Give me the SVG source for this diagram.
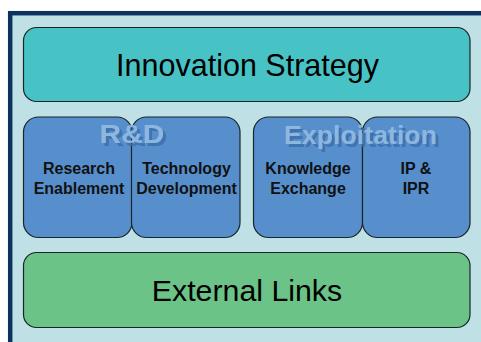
<svg xmlns="http://www.w3.org/2000/svg" width="481" height="342" viewBox="0 0 481 342">
<style>
.box{stroke:#1c2428;stroke-width:1.2}
.big{font-family:"Liberation Sans",Arial,sans-serif;fill:#000;text-anchor:middle}
.lbl{font-family:"Liberation Sans",Arial,sans-serif;font-size:16px;font-weight:bold;fill:#111;text-anchor:middle}
.wm{font-family:"Liberation Sans",Arial,sans-serif;font-weight:bold;text-anchor:middle;fill:#93bbe2;fill-opacity:0.9;filter:url(#shadow)}
.blue{fill:#568fcc}
</style>
<defs>
<filter id="shadow" x="-10%" y="-30%" width="130%" height="170%">
<feFlood flood-color="#3a6dab" flood-opacity="0.9" result="c"/>
<feComposite in="c" in2="SourceAlpha" operator="in" result="s"/>
<feOffset in="s" dx="3" dy="3" result="o"/>
<feMerge><feMergeNode in="o"/><feMergeNode in="SourceGraphic"/></feMerge>
</filter>
</defs>
<rect x="0" y="0" width="481" height="342" fill="#ffffff"/>
<rect x="10.2" y="13.2" width="490" height="350" fill="#bfe0e4" stroke="#0c3360" stroke-width="4.5"/>
<g id="innovation-strategy">
<rect class="box" x="23.5" y="27.5" width="446.5" height="74" rx="13" fill="#48c3c5"/>
<text class="big" x="247.5" y="76" font-size="30.5">Innovation Strategy</text>
</g>
<g id="research-enablement">
<rect class="box blue" x="23.5" y="117" width="108.5" height="120.5" rx="15"/>
<text class="lbl" x="79" y="174">Research</text>
<text class="lbl" x="79" y="193.5">Enablement</text>
</g>
<g id="technology-development">
<rect class="box blue" x="131.5" y="117" width="108.5" height="120.5" rx="15"/>
<text class="lbl" x="186.5" y="174">Technology</text>
<text class="lbl" x="186.5" y="193.5">Development</text>
</g>
<g id="knowledge-exchange">
<rect class="box blue" x="253.5" y="117" width="109" height="120.5" rx="15"/>
<text class="lbl" x="308" y="174">Knowledge</text>
<text class="lbl" x="308" y="193.5">Exchange</text>
</g>
<g id="ip-ipr">
<rect class="box blue" x="362.5" y="117" width="107.5" height="120.5" rx="15"/>
<text class="lbl" x="416" y="174">IP &amp;</text>
<text class="lbl" x="416" y="193.5">IPR</text>
</g>
<g id="rd-label">
<text class="wm" x="132" y="143" font-size="26" textLength="65" lengthAdjust="spacingAndGlyphs">R&amp;D</text>
</g>
<g id="exploitation-label">
<text class="wm" x="360.5" y="144" font-size="25" textLength="153" lengthAdjust="spacingAndGlyphs">Exploitation</text>
</g>
<g id="external-links">
<rect class="box" x="23.5" y="252.5" width="446.5" height="75" rx="13" fill="#6cc387"/>
<text class="big" x="247" y="301" font-size="30.3">External Links</text>
</g>
<g id="connectors"></g>
</svg>
